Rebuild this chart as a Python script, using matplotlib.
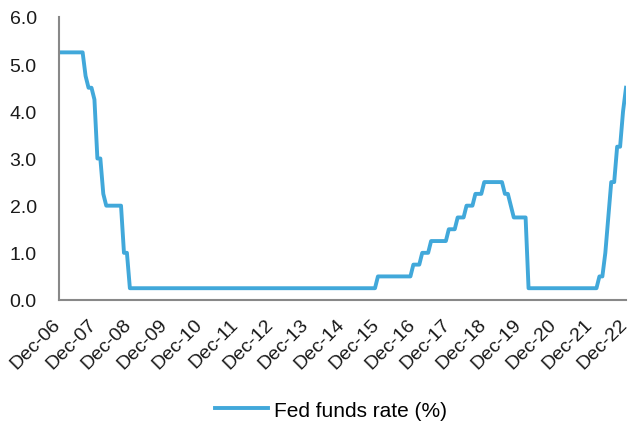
import matplotlib.pyplot as plt
import matplotlib.transforms as mtransforms

plt.rcParams['font.family'] = ['Liberation Sans', 'DejaVu Sans']

# monthly, Dec-06 .. Dec-22 (fed funds target, upper bound)
rate = ([5.25] * 9                      # Dec-06 .. Aug-07
        + [4.75, 4.5, 4.5, 4.25]        # Sep-07 .. Dec-07
        + [3.0, 3.0, 2.25, 2.0, 2.0, 2.0, 2.0, 2.0, 2.0, 1.0, 1.0]  # Jan-08 .. Nov-08
        + [0.25] * 84                   # Dec-08 .. Nov-15
        + [0.5] * 12                    # Dec-15 .. Nov-16
        + [0.75] * 3 + [1.0] * 3 + [1.25] * 6   # Dec-16 .. Nov-17
        + [1.5] * 3 + [1.75] * 3 + [2.0] * 3 + [2.25] * 3  # Dec-17 .. Nov-18
        + [2.5] * 7 + [2.25] * 2 + [2.0] + [1.75] * 5      # Dec-18 .. Feb-20
        + [0.25] * 24                   # Mar-20 .. Feb-22
        + [0.5, 0.5, 1.0, 1.75, 2.5, 2.5, 3.25, 3.25, 4.0, 4.5])  # Mar-22 .. Dec-22
tick_labels = ['Dec-%02d' % y for y in range(6, 23)]

fig = plt.figure(figsize=(6.31, 4.27), dpi=100)
ax = fig.add_axes([59 / 631, 1 - 301 / 427, (626 - 59) / 631, (301 - 18) / 427])

ax.plot(range(len(rate)), rate, color='#41A8DA', lw=2.8, label='Fed funds rate (%)')

ax.set_xlim(0, len(rate) - 1)
ax.set_ylim(0, 6)
ax.set_yticks([0, 1, 2, 3, 4, 5, 6])
ax.set_yticklabels(['%.1f' % v for v in range(7)])
ax.set_xticks(range(0, len(rate), 12))
ax.set_xticklabels(tick_labels, rotation=45, ha='right', rotation_mode='anchor')
ax.tick_params(length=0, labelsize=14, colors='#1a1a1a', pad=11)
ax.tick_params(axis='y', pad=16)

# nudge the rotated labels a bit to the left
shift = mtransforms.ScaledTranslation(-7 / 100, 0, fig.dpi_scale_trans)
for lab in ax.get_xticklabels():
    lab.set_transform(lab.get_transform() + shift)

for s in ['top', 'right']:
    ax.spines[s].set_visible(False)
for s in ['left', 'bottom']:
    ax.spines[s].set_color('#888888')
    ax.spines[s].set_linewidth(1.5)

fig.legend(loc='center', bbox_to_anchor=(0.525, 0.037), frameon=False, fontsize=15,
           handlelength=2.55, handletextpad=0.3)

fig.savefig('out.png', dpi=100)
